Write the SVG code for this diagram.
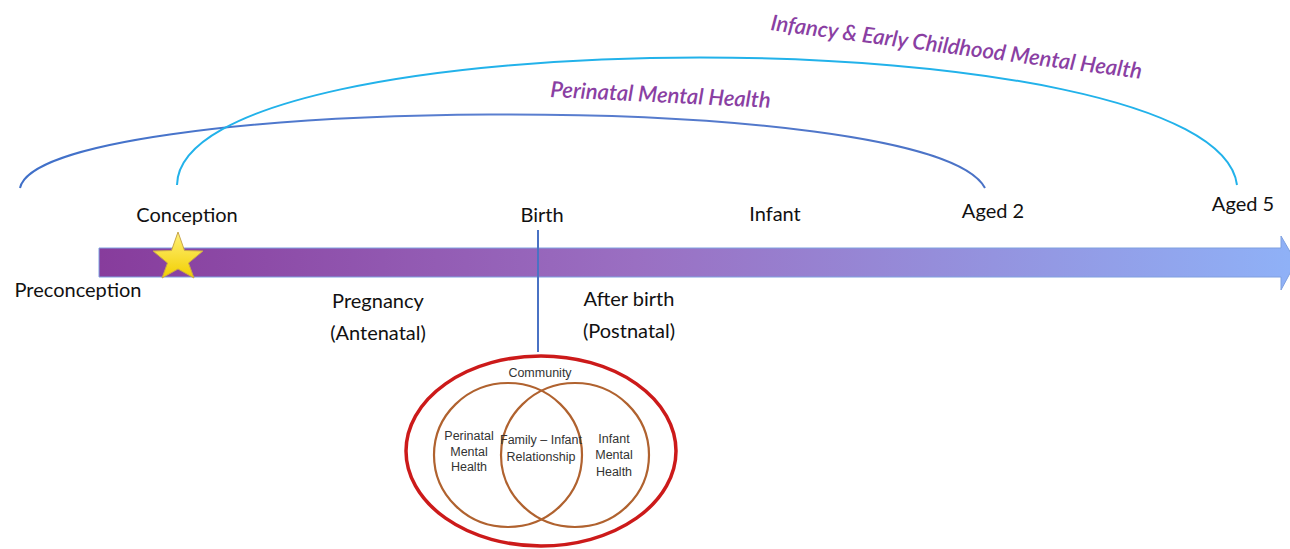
<svg xmlns="http://www.w3.org/2000/svg" width="1290" height="549" viewBox="0 0 1290 549">
  <style>
    .lbl { font-family: Lato, "Open Sans", sans-serif; font-size: 20px; fill: #111; }
    .mh { font-family: Lato, "Open Sans", sans-serif; font-size: 22px; font-style: italic; font-weight: 600; fill: #8a3fa3; }
    .venn { font-family: "Liberation Sans", Arial, sans-serif; font-size: 12.5px; fill: #333; text-anchor: middle; }
    .ring { fill: none; stroke: #b0622f; stroke-width: 2.2; }
  </style>
  <defs>
    <linearGradient id="barGrad" x1="99" y1="0" x2="1290" y2="0" gradientUnits="userSpaceOnUse">
      <stop offset="0" stop-color="#873c9c"/>
      <stop offset="0.45" stop-color="#9a6fc2"/>
      <stop offset="1" stop-color="#8fb1f7"/>
    </linearGradient>
    <linearGradient id="periGrad" x1="20" y1="0" x2="985" y2="0" gradientUnits="userSpaceOnUse">
      <stop offset="0" stop-color="#3f6fc8"/>
      <stop offset="0.5" stop-color="#5b7fd0"/>
      <stop offset="1" stop-color="#4a72c6"/>
    </linearGradient>
    <linearGradient id="starGrad" x1="0" y1="0" x2="0" y2="1">
      <stop offset="0" stop-color="#fff07a"/>
      <stop offset="1" stop-color="#f2cf00"/>
    </linearGradient>
  </defs>

  <!-- timeline arrow -->
  <g id="timeline">
    <path d="M99,248 H1281 V236 L1296,262 L1281,290 V277 H99 Z" fill="url(#barGrad)" stroke="#7fa0e0" stroke-width="1"/>
  </g>

  <!-- span arcs -->
  <g id="connectors">
    <path d="M20,188 C40,95 930,85 985,188" fill="none" stroke="url(#periGrad)" stroke-width="2"/>
    <path d="M177,185 C180,15 1215,15 1237,185" fill="none" stroke="#22b2ea" stroke-width="2"/>
    <line x1="538" y1="230" x2="538" y2="352" stroke="#4a72c4" stroke-width="2"/>
  </g>

  <g id="perinatal-span-label">
    <text class="mh" transform="translate(550,97) rotate(2.8)">Perinatal Mental Health</text>
  </g>
  <g id="infancy-span-label">
    <text class="mh" transform="translate(770,30) rotate(7.5)">Infancy &amp; Early Childhood Mental Health</text>
  </g>

  <!-- conception star -->
  <g id="conception-star">
    <polygon points="178,232 184.5,250.5 203,251 188.5,263 194,278 178,269 162,278 167.5,263 153,251 171.5,250.5" fill="url(#starGrad)" stroke="#c8a64a" stroke-width="1"/>
  </g>

  <!-- stage labels -->
  <g id="stage-labels">
    <text class="lbl" x="187" y="222" text-anchor="middle">Conception</text>
    <text class="lbl" x="542" y="222" text-anchor="middle">Birth</text>
    <text class="lbl" x="775" y="221" text-anchor="middle">Infant</text>
    <text class="lbl" x="993" y="218" text-anchor="middle">Aged 2</text>
    <text class="lbl" x="1243" y="211" text-anchor="middle">Aged 5</text>
    <text class="lbl" x="78" y="297" text-anchor="middle">Preconception</text>
    <text class="lbl" x="378" y="308" text-anchor="middle">Pregnancy</text>
    <text class="lbl" x="378" y="340" text-anchor="middle">(Antenatal)</text>
    <text class="lbl" x="629" y="306" text-anchor="middle">After birth</text>
    <text class="lbl" x="629" y="338" text-anchor="middle">(Postnatal)</text>
  </g>

  <!-- relationship venn diagram -->
  <g id="community">
    <ellipse cx="541" cy="451" rx="135" ry="95" fill="#fff" stroke="#cc1a1a" stroke-width="3.5"/>
    <text class="venn" x="540" y="377">Community</text>
  </g>
  <g id="perinatal-circle">
    <ellipse class="ring" cx="508" cy="455" rx="74" ry="72"/>
    <text class="venn" x="469" y="440">Perinatal</text>
    <text class="venn" x="469" y="456">Mental</text>
    <text class="venn" x="469" y="471">Health</text>
  </g>
  <g id="infant-circle">
    <ellipse class="ring" cx="575" cy="455" rx="74" ry="72"/>
    <text class="venn" x="614" y="443">Infant</text>
    <text class="venn" x="614" y="459">Mental</text>
    <text class="venn" x="614" y="476">Health</text>
  </g>
  <g id="family-infant">
    <text class="venn" x="541" y="444">Family – Infant</text>
    <text class="venn" x="541" y="461">Relationship</text>
  </g>
</svg>
